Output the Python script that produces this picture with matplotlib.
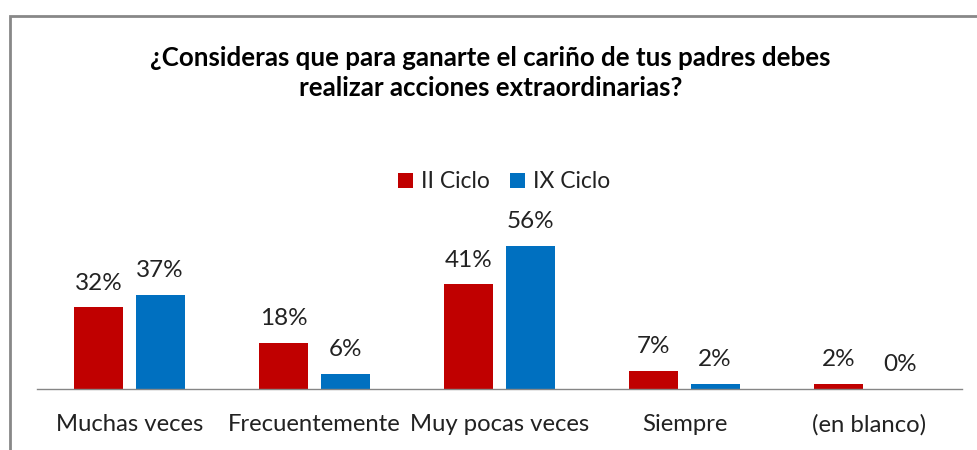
import matplotlib.pyplot as plt
import numpy as np
from matplotlib.patches import Rectangle

categories = ['Muchas veces', 'Frecuentemente', 'Muy pocas veces', 'Siempre', '(en blanco)']
ii_ciclo = [32, 18, 41, 7, 2]
ix_ciclo = [37, 6, 56, 2, 0]
series_names = ['II Ciclo', 'IX Ciclo']

plt.rcParams['font.family'] = ['Lato', 'DejaVu Sans']

fig = plt.figure(figsize=(9.77, 4.5), dpi=100)
ax = fig.add_axes([37 / 977, 61 / 450, 925 / 977, 153 / 450])

x = np.arange(len(categories))
w = 0.265
off = 0.165
b1 = ax.bar(x - off, ii_ciclo, w, color='#C00000', label=series_names[0])
b2 = ax.bar(x + off, ix_ciclo, w, color='#0070C0', label=series_names[1])

for bars, vals in ((b1, ii_ciclo), (b2, ix_ciclo)):
    for b, v in zip(bars, vals):
        ax.annotate(f'{v}%', (b.get_x() + b.get_width() / 2, v),
                    xytext=(0, 10), textcoords='offset points',
                    ha='center', va='bottom', fontsize=17.5, color='#222222')

ax.set_xlim(-0.5, len(categories) - 0.5)
ax.set_ylim(0, 60)
ax.set_xticks(x)
ax.set_xticklabels(categories, fontsize=17.2, color='#222222')
ax.tick_params(axis='x', length=0, pad=18)
ax.set_yticks([])
for s in ('top', 'right', 'left'):
    ax.spines[s].set_visible(False)
ax.spines['bottom'].set_color('#868686')
ax.spines['bottom'].set_linewidth(1)

fig.text(0.502, 1 - 73 / 450,
         '¿Consideras que para ganarte el cariño de tus padres debes\nrealizar acciones extraordinarias?',
         ha='center', va='center', fontsize=18.6, fontweight='bold',
         linespacing=1.3, color='black')

fig.legend(loc='center', bbox_to_anchor=(0.516, 1 - 182 / 450), ncol=2,
           frameon=False, fontsize=16.5, handlelength=0.65, handleheight=0.65,
           handletextpad=0.35, columnspacing=0.9, labelcolor='#222222')

fig.patches.append(Rectangle((9.5 / 977, -0.2), 1.2, 1 - 15.5 / 450 + 0.2,
                             transform=fig.transFigure, fill=False,
                             edgecolor='#888888', linewidth=2))

plt.savefig('out.png', dpi=100)
